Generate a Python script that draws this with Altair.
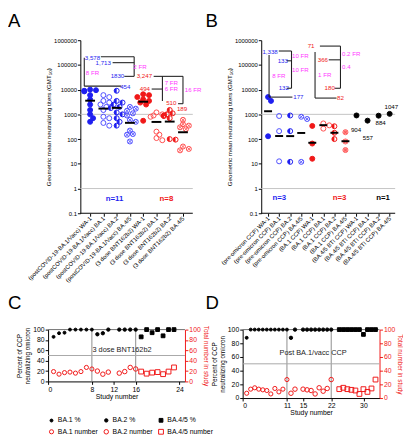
import math
import altair as alt
import pandas as pd

FONT = "Liberation Sans"
BLUE = "#1f1ff0"
BLUE_O = "#4d4dff"
RED = "#f01818"
RED_O = "#ff4d4d"
PINK = "#ff8a8a"
MAG = "#ff38ff"
BLACK = "#000000"
GRAY = "#c4c4c4"

# ---------------- Panel A data ----------------
a_categories = ["(postCOVID-19-BA.1/Vacc) WA-1", "(postCOVID-19-BA.1/Vacc) BA.1",
                "(postCOVID-19-BA.1/Vacc) BA.2", "(postCOVID-19-BA.1/Vacc) BA.4/5",
                "(3 dose BNT162b2) WA-1", "(3 dose BNT162b2) BA.1",
                "(3 dose BNT162b2) BA.2", "(3 dose BNT162b2) BA.4/5"]
a_titers = [
    [10000, 9500, 9000, 8500, 6000, 4000, 2500, 1500, 1000, 700, 500],
    [6000, 5000, 3500, 3000, 2500, 2000, 1500, 800, 700, 450, 350],
    [9000, 3500, 3000, 2500, 2000, 1800, 1200, 1000, 700, 500, 350],
    [2000, 1700, 1400, 1100, 900, 600, 500, 220, 160, 150, 80],
    [6500, 6000, 5000, 4000, 3500, 3000, 2500, 550],
    [1200, 1000, 900, 800, 200, 150, 110, 90],
    [1500, 1100, 1000, 900, 850, 700, 100, 95],
    [600, 400, 350, 300, 250, 50, 40, 35],
]
a_gmt = [3578, 1713, 1830, 454, 3247, 494, 510, 189]
a_marker = ["filled", "open", "half", "cross", "filled", "open", "half", "cross"]
a_color = [BLUE, BLUE_O, BLUE, BLUE_O, RED, RED_O, RED, RED_O]
a_notes = [("3,578", 1.18, 194600, BLUE), ("1,713", 1.99, 123300, BLUE),
           ("8 FR", 1.18, 45300, MAG), ("1830", 3.06, 34500, BLUE),
           ("454", 3.65, 12670, BLUE), ("2 FR", 4.76, 85700, MAG),
           ("3,247", 5.09, 34500, RED), ("494", 5.13, 10570, RED),
           ("7 FR", 7.12, 18200, MAG), ("6 FR", 7.12, 10570, MAG),
           ("510", 7.12, 2950, RED), ("16 FR", 8.77, 9640, MAG),
           ("189", 7.93, 1710, RED)]
a_n = [("n=11", 2.84, 0.36, BLUE), ("n=8", 6.75, 0.36, RED)]
a_lines = [(1.81, 4.32, 212800, 212800), (4.32, 4.32, 212800, 34500),
           (2.695, 4.32, 123300, 123300), (3.58, 4.32, 34500, 34500),
           (0.558, 0.558, 194600, 13870), (0.558, 3.36, 13870, 13870),
           (5.79, 8.0, 34500, 34500), (6.45, 6.45, 34500, 3500),
           (5.64, 6.45, 10570, 10570), (8.0, 8.0, 34500, 2700),
           (7.63, 8.0, 2700, 2700)]

# ---------------- Panel B data ----------------
b_categories = ["(pre-omicron CCP) WA-1", "(pre-omicron CCP) BA.1",
                "(pre-omicron CCP) BA.2", "(pre-omicron CCP) BA.4/5",
                "(BA.1 CCP) WA-1", "(BA.1 CCP) BA.1", "(BA.1 CCP) BA.2",
                "(BA.1 CCP) BA.4/5", "(BA.4/5 BTI CCP) WA-1", "(BA.4/5 BTI CCP) BA.1",
                "(BA.4/5 BTI CCP) BA.2", "(BA.4/5 BTI CCP) BA.4/5"]
b_titers = [[5000, 3500, 130], [860, 210, 12.6], [900, 210, 12], [800, 650, 12],
            [340, 66, 16], [430, 360, 265], [330, 180, 100], [190, 80, 36],
            [904], [557], [884], [1047]]
b_gmt = [1338, 133, 132, 177, 71, 366, 180, 82]
b_marker = ["filled", "open", "half", "cross", "filled", "open", "half", "crossfill",
            "filled", "filled", "filled", "filled"]
b_color = [BLUE, BLUE_O, BLUE, BLUE_O, RED, RED_O, RED, RED_O,
           BLACK, BLACK, BLACK, BLACK]
b_notes = [("1,338", 1.18, 334000, BLUE), ("133", 2.33, 146800, BLUE),
           ("132", 2.42, 11380, BLUE), ("177", 3.74, 4990, BLUE),
           ("8 FR", 1.97, 34000, MAG), ("10 FR", 3.92, 231800, MAG),
           ("10 FR", 3.92, 64600, MAG), ("71", 4.89, 578000, RED),
           ("366", 5.96, 160700, RED), ("1 FR", 6.13, 40800, MAG),
           ("180", 6.58, 11380, RED), ("82", 7.55, 4560, RED),
           ("0.2 FR", 8.52, 278000, MAG), ("0.4", 8.08, 84900, MAG),
           ("904", 8.96, 223, BLACK), ("557", 10.03, 108, BLACK),
           ("884", 11.18, 465, BLACK), ("1047", 12.15, 2005, BLACK)]
b_n = [("n=3", 2.02, 0.41, BLUE), ("n=3", 7.46, 0.41, RED), ("n=1", 11.4, 0.41, BLACK)]
b_lines = [(1.09, 1.09, 254000, 4990), (1.09, 3.2, 4990, 4990),
           (1.97, 3.12, 365400, 365400), (3.12, 3.12, 365400, 11380),
           (2.68, 3.12, 146800, 146800), (2.68, 3.12, 11380, 11380),
           (5.69, 7.55, 578000, 578000), (7.55, 7.55, 578000, 11380),
           (6.49, 7.55, 160700, 160700), (7.02, 7.55, 11380, 11380),
           (5.25, 5.25, 334000, 4560), (5.25, 7.19, 4560, 4560)]

# ---------------- Panel C data ----------------
c_ba1_study = [1, 2, 3, 4, 5, 6, 7, 8]
c_ba1_pct = [86, 93, 94, 100, 100, 100, 100, 100]
c_ba1_num = [19, 14, 17, 18, 16, 19, 27, 24]
c_ba2_study = [9, 10, 11, 13, 14, 15, 16]
c_ba2_pct = [91, 93, 100, 100, 100, 100, 100]
c_ba2_num = [20, 14, 18, 16, 19, 27, 24]
c_ba45_study = [17, 18, 19, 20, 21, 22, 23]
c_ba45_pct = [86, 100, 94, 100, 88, 100, 100]
c_ba45_num = [19, 15, 17, 18, 14, 19, 27]
c_ticks = [0, 8, 12, 16, 24]
c_dividers = [8, 16]

# ---------------- Panel D data ----------------
d_ba1_study = [1, 2, 3, 4, 5, 6, 7, 8, 9, 10, 11]
d_ba1_pct = [88, 100, 100, 100, 100, 100, 100, 100, 100, 100, 100]
d_ba1_num = [7, 13, 15, 13, 12, 11, 6, 14, 9, 13, 27]
d_ba2_study = [12, 13, 15, 16, 17, 18, 19, 20, 21, 22]
d_ba2_pct = [88, 100, 100, 100, 100, 100, 100, 100, 100, 100]
d_ba2_num = [7, 13, 13, 12, 11, 6, 15, 10, 14, 27]
d_ba45_study = [24, 25, 26, 27, 28, 29, 30, 31, 32, 33]
d_ba45_pct = [100, 100, 100, 100, 100, 100, 93, 100, 100, 100]
d_ba45_num = [13, 15, 13, 12, 11, 6, 13, 9, 14, 27]
d_ticks = [0, 11, 15, 22, 30]
d_dividers = [11, 22]

SERIES = ["BA.1 %", "BA.2 %", "BA.4/5 %", "BA.1 number", "BA.2 number", "BA.4/5 number"]


def swarm(vals, upx, dpx, d=5.0):
    """Deterministic beeswarm: horizontal offsets (data units) within one column."""
    placed, out = [], [0.0] * len(vals)
    for i in sorted(range(len(vals)), key=lambda k: -vals[k]):
        yy = math.log10(vals[i]) * dpx
        xx = 0.0
        for k in [0, 1, -1, 2, -2]:
            xx = k * d * 0.6
            if all((xx - px) ** 2 + (yy - py) ** 2 >= (d * 0.85) ** 2 for px, py in placed):
                break
        placed.append((xx, yy))
        out[i] = xx / upx
    return out


def letter_layer(letter, lx, ly):
    return alt.Chart(pd.DataFrame({"t": [letter]})).mark_text(
        font=FONT, fontSize=19, align="left", baseline="alphabetic", color=BLACK).encode(
        x=alt.value(lx), y=alt.value(ly), text="t:N")


def dot_panel(cats, titers, gmt, marker, color, notes, nlabels, lines, xdom, xstart,
              yoff, width, height, upx, dpx, dash, letter, lx, ly):
    pts = []
    for i, vals in enumerate(titers):
        offs = swarm(vals, upx, dpx)
        for v, o in zip(vals, offs):
            pts.append({"x": i + 1 + o, "y": v, "c": color[i], "m": marker[i],
                        "f": PINK if marker[i] == "crossfill" else color[i]})
    pts = pd.DataFrame(pts)
    expr = "[" + ",".join("'" + c + "'" for c in [""] + cats) + "][datum.value]"
    xenc = alt.X("x:Q", scale=alt.Scale(domain=xdom, nice=False, zero=False),
                 axis=alt.Axis(values=list(range(1, len(cats) + 1)), labelExpr=expr,
                               labelAngle=-45, labelAlign="right", labelBaseline="middle",
                               domain=False, title=None, labelFontSize=6, tickSize=3,
                               labelPadding=1, labelOverlap=False, labelBound=False))
    yvals = [0.1, 1, 10, 100, 1000, 10000, 100000, 1000000]
    yenc = alt.Y("y:Q", scale=alt.Scale(type="log", domain=[0.1, 1000000], nice=False),
                 axis=alt.Axis(values=yvals,
                               labelExpr="datum.value < 1 ? '0.1' : format(datum.value, 'd')",
                               offset=yoff, title="Geometric mean neutralizing titers (GMT₅₀)",
                               titleFontSize=6.3, labelFontSize=6, tickSize=3, titlePadding=2,
                               labelPadding=1, labelOverlap=False))
    x2 = alt.X2("x2:Q")
    y2 = alt.Y2("y2:Q")

    ref = pd.DataFrame({"x": [xstart, xstart, xstart], "x2": [xdom[1]] * 3,
                        "y": [1000, 1, 0.1], "y2": [1000, 1, 0.1],
                        "c": [GRAY, GRAY, BLACK]})
    ref_l = alt.Chart(ref).mark_rule(strokeWidth=1).encode(
        x=xenc, x2=x2, y=yenc, y2=y2, color=alt.Color("c:N", scale=None))

    outline = alt.Chart(pts).mark_point(shape="circle", filled=False, size=26, opacity=1,
                                        strokeWidth=1).encode(
        x=xenc, y=yenc, color=alt.Color("c:N", scale=None))
    filled = alt.Chart(pts).transform_filter(
        "datum.m == 'filled' || datum.m == 'crossfill'").mark_point(
        shape="circle", filled=True, size=26, opacity=1).encode(
        x=xenc, y=yenc, color=alt.Color("f:N", scale=None))
    half = alt.Chart(pts).transform_filter("datum.m == 'half'").mark_point(
        shape="M0,-1A1,1,0,0,0,0,1Z", filled=True, size=26, opacity=1).encode(
        x=xenc, y=yenc, color=alt.Color("c:N", scale=None))
    cross = alt.Chart(pts).transform_filter(
        "datum.m == 'cross' || datum.m == 'crossfill'").mark_point(
        shape="M-0.7,-0.7L0.7,0.7M-0.7,0.7L0.7,-0.7", filled=False, size=26, opacity=1,
        strokeWidth=0.9).encode(x=xenc, y=yenc, color=alt.Color("c:N", scale=None))

    gm = pd.DataFrame({"x": [i + 1 - dash for i in range(len(gmt))],
                       "x2": [i + 1 + dash for i in range(len(gmt))],
                       "y": gmt, "y2": gmt})
    dashes = alt.Chart(gm).mark_rule(strokeWidth=2, color=BLACK).encode(
        x=xenc, x2=x2, y=yenc, y2=y2)

    ln = pd.DataFrame(lines, columns=["x", "x2", "y", "y2"])
    brackets = alt.Chart(ln).mark_rule(strokeWidth=1.1, color="#222222").encode(
        x=xenc, x2=x2, y=yenc, y2=y2)

    nt = pd.DataFrame(notes, columns=["t", "x", "y", "c"])
    note_l = alt.Chart(nt).mark_text(font=FONT, fontSize=6.3, baseline="middle").encode(
        x=xenc, y=yenc, text="t:N", color=alt.Color("c:N", scale=None))
    nn = pd.DataFrame(nlabels, columns=["t", "x", "y", "c"])
    n_l = alt.Chart(nn).mark_text(font=FONT, fontSize=8, fontWeight="bold",
                                  baseline="middle").encode(
        x=xenc, y=yenc, text="t:N", color=alt.Color("c:N", scale=None))

    return alt.layer(ref_l, outline, filled, half, cross, dashes, brackets, note_l,
                     n_l, letter_layer(letter, lx, ly)).properties(width=width, height=height)


def study_panel(s1, p1, n1, s2, p2, n2, s3, p3, n3, xmax, ticks, dividers, label,
                lx, ly, width, height, letter, ltx, lty, rowpad):
    rows = []
    for st, pc, nm, tag in [(s1, p1, n1, "BA.1"), (s2, p2, n2, "BA.2"), (s3, p3, n3, "BA.4/5")]:
        for s, p, n in zip(st, pc, nm):
            rows.append({"study": s, "value": p, "series": tag + " %", "kind": "pct"})
            rows.append({"study": s, "value": n, "series": tag + " number", "kind": "num"})
    df = pd.DataFrame(rows)
    xenc = alt.X("study:Q", scale=alt.Scale(domain=[0, xmax], nice=False, zero=False),
                 axis=alt.Axis(values=ticks, title="Study number", labelFontSize=7,
                               titleFontSize=7, tickSize=3, titlePadding=0, labelPadding=1))
    leg = alt.Legend(orient="bottom", columns=3, title=None, labelFontSize=7, labelFont=FONT,
                     symbolStrokeWidth=1, columnPadding=4, rowPadding=rowpad, offset=1,
                     labelOffset=3, padding=0)
    enc = dict(
        shape=alt.Shape("series:N", scale=alt.Scale(domain=SERIES, range=[
            "circle", "circle", "square", "circle", "circle", "square"]), legend=leg),
        size=alt.Size("series:N", scale=alt.Scale(domain=SERIES, range=[
            9, 24, 24, 13, 22, 28]), legend=leg),
        stroke=alt.Stroke("series:N", scale=alt.Scale(domain=SERIES, range=[
            BLACK, BLACK, BLACK, RED, RED, RED]), legend=leg),
        fill=alt.Fill("series:N", scale=alt.Scale(domain=SERIES, range=[
            BLACK, BLACK, BLACK, "transparent", "transparent", "transparent"]), legend=leg),
    )
    yl = alt.Y("value:Q", scale=alt.Scale(domain=[0, 100], nice=False),
               axis=alt.Axis(values=[0, 20, 40, 60, 80, 100],
                             title=["Percent of CCP", "neutralizing omicron"],
                             titleFontSize=6.5, labelFontSize=7, tickSize=3, titlePadding=2,
                             labelPadding=1))
    yr = alt.Y("value:Q", scale=alt.Scale(domain=[0, 100], nice=False),
               axis=alt.Axis(orient="right", values=[0, 20, 40, 60, 80, 100],
                             title="Total number in study", titleFontSize=6.5,
                             labelFontSize=7, tickSize=3, labelColor=RED, titleColor=RED,
                             domainColor=RED, tickColor=RED, titlePadding=2, labelPadding=1))
    divs = alt.Chart(pd.DataFrame({"study": dividers})).mark_rule(
        color="#8c8c8c", strokeWidth=1).encode(x=xenc)
    hl = alt.Chart(pd.DataFrame({"value": [50]})).mark_rule(
        color="#a8a8a8", strokeWidth=1).encode(y=yl)
    top = alt.Chart(pd.DataFrame({"value": [100]})).mark_rule(
        color="#6d6d6d", strokeWidth=1).encode(y=yl)
    txt = alt.Chart(pd.DataFrame({"study": [lx], "value": [ly], "t": [label]})).mark_text(
        font=FONT, fontSize=7.5, color="#222222").encode(x=xenc, y=yl, text="t:N")
    pct = alt.Chart(df).transform_filter("datum.kind == 'pct'").mark_point(
        opacity=1, strokeWidth=1).encode(x=xenc, y=yl, **enc)
    num = alt.Chart(df).transform_filter("datum.kind == 'num'").mark_point(
        opacity=1, strokeWidth=1).encode(x=xenc, y=yr, **enc)
    left = alt.layer(divs, hl, top, txt, pct, letter_layer(letter, ltx, lty))
    return alt.layer(left, num).resolve_scale(y="independent").properties(
        width=width, height=height)


A = dot_panel(a_categories, a_titers, a_gmt, a_marker, a_color, a_notes, a_n, a_lines,
              xdom=[-2.17, 8.74], xstart=0.263, yoff=-33, width=148, height=177,
              upx=13.57, dpx=25.3, dash=0.37, letter="A", lx=-41, ly=-13)
B = dot_panel(b_categories, b_titers, b_gmt, b_marker, b_color, b_notes, b_n, b_lines,
              xdom=[-1.30, 12.50], xstart=0.38, yoff=-19, width=156, height=177,
              upx=11.3, dpx=25.2, dash=0.36, letter="B", lx=-38, ly=-13)
C = study_panel(c_ba1_study, c_ba1_pct, c_ba1_num, c_ba2_study, c_ba2_pct, c_ba2_num,
                c_ba45_study, c_ba45_pct, c_ba45_num, 25, c_ticks, c_dividers,
                "3 dose BNT162b2", 13.5, 60, width=140, height=53, letter="C", ltx=-41,
                lty=-21, rowpad=3)
D = study_panel(d_ba1_study, d_ba1_pct, d_ba1_num, d_ba2_study, d_ba2_pct, d_ba2_num,
                d_ba45_study, d_ba45_pct, d_ba45_num, 34, d_ticks, d_dividers,
                "Post BA.1/vacc CCP", 17.5, 66, width=140, height=70, letter="D", ltx=-38,
                lty=-21, rowpad=0)

chart = alt.concat(A, B, C, D, columns=2, spacing={"row": 119, "column": 51},
                   bounds="flush", align="each").properties(padding=0)
chart = chart.configure_view(stroke=None).configure_axis(
    labelFont=FONT, titleFont=FONT, titleFontWeight="normal", domainColor=BLACK,
    tickColor=BLACK, labelColor=BLACK, titleColor=BLACK, grid=False, domainWidth=1,
    tickWidth=1).configure_legend(labelFont=FONT)

chart.save("out.html", embed_options={"renderer": "svg", "actions": False})
